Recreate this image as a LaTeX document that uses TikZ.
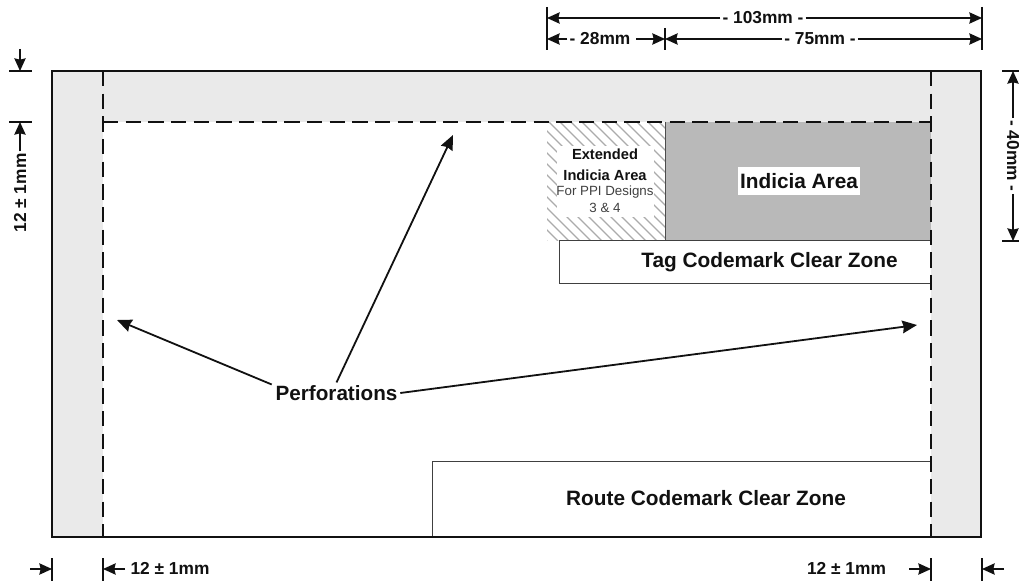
\documentclass[tikz,border=0pt]{standalone}
\usepackage{fontspec}
\setmainfont{Liberation Sans}
\usetikzlibrary{arrows.meta}
\definecolor{band}{HTML}{EAEAEA}
\definecolor{indicia}{HTML}{B9B9B9}
\definecolor{hatch}{HTML}{ABABAB}
\definecolor{ink}{HTML}{111111}
\tikzset{
  dimline/.style={draw=ink,line width=1.05pt,-{Stealth[length=9.5pt,width=8.5pt,inset=1pt]}},
  tick/.style={draw=ink,line width=0.8pt},
  perfline/.style={draw=ink,line width=1.5pt,dash pattern=on 11.5pt off 5.5pt},
  pointer/.style={draw=ink,line width=1.35pt,-{Stealth[length=11pt,width=9.5pt,inset=1pt]}},
  dimtext/.style={font=\fontsize{13}{15}\selectfont\bfseries,text=ink,inner sep=1.5pt},
  zonetext/.style={font=\fontsize{15.6}{18}\selectfont\bfseries,text=ink,inner sep=0pt},
  zonebox/.style={draw=black!75,line width=0.75pt,fill=white},
}
\begin{document}
\begin{tikzpicture}[x=0.75pt,y=-0.75pt]
\useasboundingbox (0,0) rectangle (1019,584);
% paper and side bands
\fill[band] (52,71) rectangle (981,537);
\fill[white] (103,122) rectangle (931,537);
% hatched extended area
\begin{scope}
  \clip (547,122) rectangle (665,241);
  \foreach \k in {-240,-229,...,120}
    \draw[hatch,line width=1pt] (547+\k,122) -- (547+\k+119,241);
\end{scope}
% indicia area
\fill[indicia] (665,122) rectangle (931,241);
\draw[black!70,line width=0.75pt] (665,122) -- (665,241) -- (931,241);
% clear zones
\draw[zonebox] (931,241) -- (559,241) -- (559,283) -- (931,283);
\draw[zonebox] (931,461) -- (432,461) -- (432,537);
% perforations
\draw[perfline] (103,71) -- (103,537);
\draw[perfline] (931,71) -- (931,537);
\draw[perfline] (103,122) -- (931,122);
% outer border
\draw[ink,line width=2pt,line join=miter] (52,71) rectangle (981,537);
% area labels
\node[fill=white,minimum width=97*0.75pt,minimum height=71*0.75pt,inner sep=0pt] (extbg) at (605.5,181.5) {};
\node[font=\fontsize{11}{13}\selectfont\bfseries,text=ink,inner sep=0pt] (ext1) at (605,154) {Extended};
\node[font=\fontsize{11}{13}\selectfont\bfseries,text=ink,inner sep=0pt] (ext2) at (605,175) {Indicia Area};
\node[font=\fontsize{10}{12}\selectfont,text=black!75,inner sep=0pt] (ext3) at (605,192) {For PPI Designs};
\node[font=\fontsize{10}{12}\selectfont,text=black!75,inner sep=0pt] (ext4) at (605,208) {3 \& 4};
\node[zonetext,fill=white,minimum width=122*0.75pt,minimum height=28*0.75pt] (ind) at (799,181) {Indicia Area};
\node[zonetext] (tag) at (769.5,262) {Tag Codemark Clear Zone};
\node[zonetext] (route) at (706,498) {Route Codemark Clear Zone};
% perforation pointers
\node[font=\fontsize{15.5}{18}\selectfont\bfseries,text=ink,inner sep=2pt] (perf) at (336.5,393) {Perforations};
\coordinate (pl) at (117,320);
\coordinate (pt) at (453,135);
\coordinate (pr) at (917,325);
\draw[pointer] (perf.north west) ++(-1,2) -- (pl);
\draw[pointer] (perf.north) -- (pt);
\draw[pointer] (perf.east) -- (pr);
% top dimensions
\coordinate (tA1) at (547,7);  \coordinate (tA2) at (547,50);
\coordinate (tB1) at (982,7);  \coordinate (tB2) at (982,50);
\coordinate (tC1) at (665,28); \coordinate (tC2) at (665,50);
\draw[tick] (tA1) -- (tA2);
\draw[tick] (tB1) -- (tB2);
\draw[tick] (tC1) -- (tC2);
\coordinate (a103l) at (547,18); \coordinate (a103r) at (982,18);
\coordinate (a2l) at (547,39);   \coordinate (a2m) at (665,39); \coordinate (a2r) at (982,39);
\node[dimtext] (d103) at (763,18) {- 103mm -};
\node[dimtext] (d28) at (600,39) {- 28mm};
\node[dimtext] (d75) at (820,39) {- 75mm -};
\draw[dimline] (d103) -- (a103l);
\draw[dimline] (d103) -- (a103r);
\draw[dimline] (d28) -- (a2l);
\draw[dimline] (d28) ++(36,0) -- (a2m);
\draw[dimline] (d75) -- (a2m);
\draw[dimline] (d75) -- (a2r);
% left dimension
\coordinate (lA1) at (9,71);  \coordinate (lA2) at (32,71);
\coordinate (lB1) at (9,122); \coordinate (lB2) at (32,122);
\draw[tick] (lA1) -- (lA2);
\draw[tick] (lB1) -- (lB2);
\coordinate (lTop) at (20,49); \coordinate (lHead) at (20,71); \coordinate (lHeadB) at (20,122);
\node[dimtext,rotate=90] (dl) at (20,193) {12 ± 1mm};
\draw[dimline] (lTop) -- (lHead);
\draw[dimline] (dl) -- (lHeadB);
% right dimension
\coordinate (rA1) at (1002,71);  \coordinate (rA2) at (1019,71);
\coordinate (rB1) at (1002,241); \coordinate (rB2) at (1019,241);
\draw[tick] (rA1) -- (rA2);
\draw[tick] (rB1) -- (rB2);
\coordinate (rT) at (1013,71); \coordinate (rB) at (1013,241);
\node[dimtext,rotate=-90] (dr) at (1013,156) {- 40mm -};
\draw[dimline] (dr) -- (rT);
\draw[dimline] (dr) -- (rB);
% bottom dimensions
\foreach \n/\x in {bA/52,bB/103,bC/931,bD/982} {
  \coordinate (\n1) at (\x,558);
  \coordinate (\n2) at (\x,581);
  \draw[tick] (\n1) -- (\n2);
}
\coordinate (bAh) at (52,569); \coordinate (bAf) at (30,569);
\coordinate (bBh) at (103,569); \coordinate (bBf) at (125,569);
\coordinate (bCh) at (931,569); \coordinate (bCf) at (909,569);
\coordinate (bDh) at (982,569); \coordinate (bDf) at (1004,569);
\draw[dimline] (bAf) -- (bAh);
\draw[dimline] (bBf) -- (bBh);
\draw[dimline] (bCf) -- (bCh);
\draw[dimline] (bDf) -- (bDh);
\node[dimtext] (dbl) at (170,568.5) {12 ± 1mm};
\node[dimtext] (dbr) at (846.5,568.5) {12 ± 1mm};
\end{tikzpicture}
\end{document}
